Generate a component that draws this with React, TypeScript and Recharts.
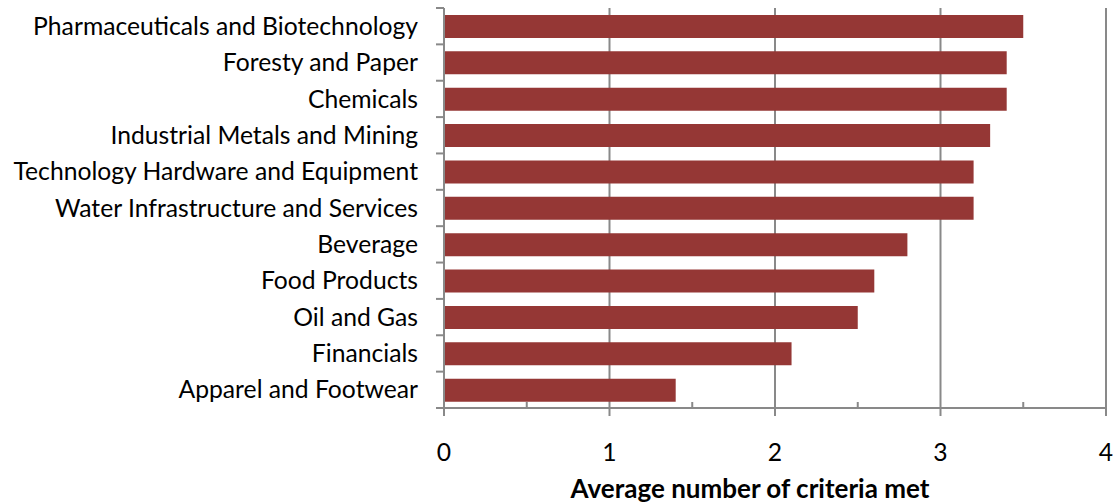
import React from "react";
import { BarChart, Bar, XAxis, YAxis, CartesianGrid, Label } from "recharts";

const categories = [
  "Pharmaceuticals and Biotechnology",
  "Foresty and Paper",
  "Chemicals",
  "Industrial Metals and Mining",
  "Technology Hardware and Equipment",
  "Water Infrastructure and Services",
  "Beverage",
  "Food Products",
  "Oil and Gas",
  "Financials",
  "Apparel and Footwear",
];
const values = [3.5, 3.4, 3.4, 3.3, 3.2, 3.2, 2.8, 2.6, 2.5, 2.1, 1.4];
const xTicks = [0, 0.5, 1, 1.5, 2, 2.5, 3, 3.5, 4];
const gridValues = [1, 2, 3, 4];

const data = categories.map((name, i) => ({ name, value: values[i] }));

const W = 1114;
const H = 504;
const TOP = 8;
const AXIS_X = 444;
const X_AXIS_H = 96;
const PLOT_BOTTOM = H - X_AXIS_H;
const BAND = (PLOT_BOTTOM - TOP) / categories.length;
const AXIS_COLOR = "#898989";
const FONT = "Lato, 'Open Sans', sans-serif";
const LABEL_SIZE = 24.7;

function YTick(props: any) {
  const { y, payload, index } = props;
  const top = y - BAND / 2;
  return (
    <g>
      <line x1={AXIS_X - 8} x2={AXIS_X} y1={top} y2={top} stroke={AXIS_COLOR} strokeWidth={2} />
      {index === categories.length - 1 && (
        <line x1={AXIS_X - 8} x2={AXIS_X} y1={y + BAND / 2} y2={y + BAND / 2} stroke={AXIS_COLOR} strokeWidth={2} />
      )}
      <text x={AXIS_X - 26} y={y} dy="0.35em" textAnchor="end" fontSize={LABEL_SIZE} fill="#000" fontFamily={FONT}>
        {payload.value}
      </text>
    </g>
  );
}

function XTick(props: any) {
  const { x, payload } = props;
  const v = payload.value;
  if (!Number.isInteger(v)) {
    return <line x1={x} x2={x} y1={PLOT_BOTTOM - 6} y2={PLOT_BOTTOM} stroke={AXIS_COLOR} strokeWidth={2} />;
  }
  return (
    <g>
      <line x1={x} x2={x} y1={PLOT_BOTTOM} y2={PLOT_BOTTOM + 8} stroke={AXIS_COLOR} strokeWidth={2} />
      <text x={x} y={PLOT_BOTTOM + 44} dy="0.35em" textAnchor="middle" fontSize={LABEL_SIZE} fill="#000" fontFamily={FONT}>
        {v}
      </text>
    </g>
  );
}

export default function App() {
  return (
    <div style={{ position: "absolute", left: 0, top: 0, width: W, height: H, background: "#fff" }}>
      <BarChart
        width={W}
        height={H}
        data={data}
        layout="vertical"
        margin={{ top: TOP, right: 8, left: 0, bottom: 0 }}
        barSize={23}
      >
        <CartesianGrid
          horizontal={false}
          verticalValues={gridValues}
          stroke={AXIS_COLOR}
          strokeWidth={2}
        />
        <XAxis
          type="number"
          domain={[0, 4]}
          ticks={xTicks}
          interval={0}
          tick={<XTick />}
          tickLine={false}
          axisLine={{ stroke: AXIS_COLOR, strokeWidth: 2 }}
          height={X_AXIS_H}
        >
          <Label
            value="Average number of criteria met"
            position="insideBottom"
            offset={6}
            dx={-25}
            style={{ fontSize: 26, fontWeight: "bold", fill: "#000", fontFamily: FONT }}
          />
        </XAxis>
        <YAxis
          type="category"
          dataKey="name"
          width={AXIS_X}
          interval={0}
          tick={<YTick />}
          tickLine={false}
          axisLine={{ stroke: AXIS_COLOR, strokeWidth: 2 }}
        />
        <Bar dataKey="value" fill="#953735" isAnimationActive={false} />
      </BarChart>
    </div>
  );
}
